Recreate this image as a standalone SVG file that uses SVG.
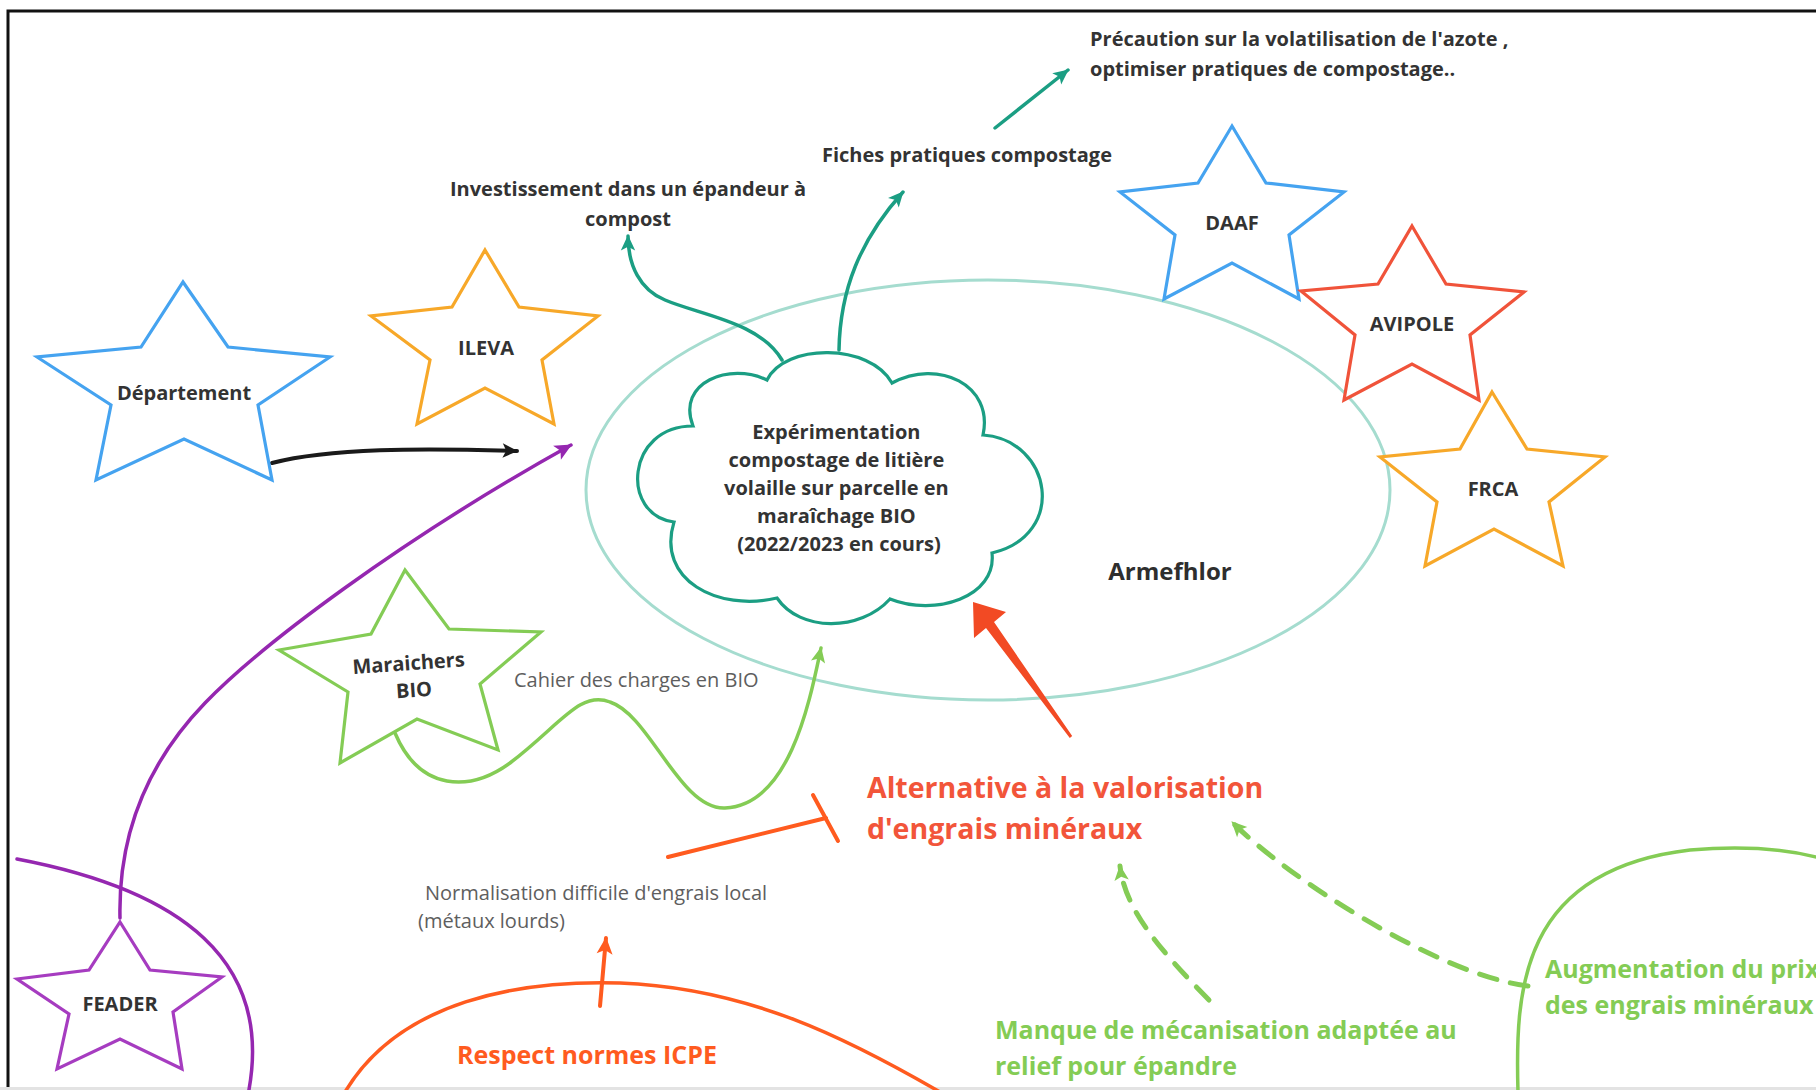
<svg xmlns="http://www.w3.org/2000/svg" width="1816" height="1090" viewBox="0 0 1816 1090">
<style>
  .t { font-family: "Open Sans", "Noto Sans", "Liberation Sans", sans-serif; }
  .dark { fill: #333333; font-weight: 700; font-size: 20px; }
  .gray { fill: #5e5e5e; font-weight: 400; font-size: 20px; }
  .star { fill: #ffffff; stroke-width: 3.2; stroke-linejoin: miter; }
  .conn { fill: none; stroke-linecap: round; stroke-linejoin: round; }
</style>
<defs>
  <marker id="aBlack" viewBox="0 0 20 20" refX="18" refY="10" markerWidth="18" markerHeight="18" markerUnits="userSpaceOnUse" orient="auto">
    <path d="M2,2 L19,10 L2,18 L6,10 z" fill="#1a1a1a"/>
  </marker>
  <marker id="aTeal" viewBox="0 0 20 20" refX="18" refY="10" markerWidth="18" markerHeight="18" markerUnits="userSpaceOnUse" orient="auto">
    <path d="M2,2 L19,10 L2,18 L6,10 z" fill="#1b9e83"/>
  </marker>
  <marker id="aPurple" viewBox="0 0 20 20" refX="18" refY="10" markerWidth="20" markerHeight="20" markerUnits="userSpaceOnUse" orient="auto">
    <path d="M2,2 L19,10 L2,18 L6,10 z" fill="#9527b0"/>
  </marker>
  <marker id="aGreen" viewBox="0 0 20 20" refX="18" refY="10" markerWidth="18" markerHeight="18" markerUnits="userSpaceOnUse" orient="auto">
    <path d="M2,2 L19,10 L2,18 L6,10 z" fill="#84cc55"/>
  </marker>
  <marker id="aOrange" viewBox="0 0 20 20" refX="18" refY="10" markerWidth="20" markerHeight="20" markerUnits="userSpaceOnUse" orient="auto">
    <path d="M2,2 L19,10 L2,18 L6,10 z" fill="#ff5b1f"/>
  </marker>
</defs>

<rect x="0" y="0" width="1816" height="1090" fill="#ffffff"/>
<path d="M8,1090 V11 H1816" fill="none" stroke="#111111" stroke-width="3"/>
<rect x="0" y="1087" width="1816" height="3" fill="#e3e3e3"/>

<g id="armefhlor">
  <ellipse cx="988" cy="490" rx="402" ry="210" fill="none" stroke="#a5dccf" stroke-width="3"/>
  <text class="t" x="1170" y="580" text-anchor="middle" font-size="24" font-weight="700" fill="#2e2e2e">Armefhlor</text>
</g>

<g id="connectors">
  <path class="conn" d="M272,463 C330,448 420,448 517,451" stroke="#1a1a1a" stroke-width="4" marker-end="url(#aBlack)"/>
  <path class="conn" d="M120,918 C118,830 150,760 205,703 S400,540 571,445" stroke="#9527b0" stroke-width="3.5" marker-end="url(#aPurple)"/>
  <path class="conn" d="M17,859 C180,890 275,960 248,1095" stroke="#9527b0" stroke-width="3.5"/>
  <path class="conn" d="M395,733 C420,792 470,792 510,763 C560,725 580,690 610,702 C650,715 680,810 725,808 C790,805 810,700 821,648" stroke="#84cc55" stroke-width="3.5" marker-end="url(#aGreen)"/>
  <path class="conn" d="M782,360 C760,322 700,315 665,300 C640,290 628,265 628,236" stroke="#1b9e83" stroke-width="3.5" marker-end="url(#aTeal)"/>
  <path class="conn" d="M839,350 C840,290 860,240 903,192" stroke="#1b9e83" stroke-width="3.5" marker-end="url(#aTeal)"/>
  <path class="conn" d="M995,128 L1068,70" stroke="#1b9e83" stroke-width="3.5" marker-end="url(#aTeal)"/>
  <polygon points="1069.8,737.9 986,627.9 974,638 973,602 1006,612 994,622.1 1072.2,736.1" fill="#f24a24"/>
  <path class="conn" d="M668,857 L826,818" stroke="#ff5b1f" stroke-width="4"/>
  <path class="conn" d="M813,795 L838,841" stroke="#ff5b1f" stroke-width="4"/>
  <path class="conn" d="M600,1006 L606,938" stroke="#ff5b1f" stroke-width="4" marker-end="url(#aOrange)"/>
  <path class="conn" d="M345,1092 C400,1000 520,980 620,983 C750,988 850,1040 940,1092" stroke="#ff5b1f" stroke-width="3.5"/>
  <path class="conn" d="M1209,1000 C1160,950 1125,910 1120,866" stroke="#84cc55" stroke-width="5" stroke-dasharray="18 14" stroke-linecap="butt" marker-end="url(#aGreen)"/>
  <path class="conn" d="M1528,986 C1440,975 1290,880 1232,822" stroke="#84cc55" stroke-width="5" stroke-dasharray="18 14" stroke-linecap="butt" marker-end="url(#aGreen)"/>
  <path class="conn" d="M1518,1092 C1515,990 1520,870 1690,850 C1750,845 1790,850 1820,858" stroke="#84cc55" stroke-width="3.5"/>
</g>

<g id="cloud">
  <path d="M693,426 C676,382 730,362 767,380 C785,343 870,343 892,383 C938,358 994,385 983,435 C1052,440 1068,535 992,553 C997,597 935,617 890,599 C860,632 800,632 777,598 C718,612 656,580 674,522 C620,515 626,426 693,426 z" fill="#ffffff" stroke="#1b9e83" stroke-width="3.2"/>
  <text class="t dark" text-anchor="middle" x="839">
    <tspan x="839" y="439">Expérimentation</tspan>
    <tspan x="839" y="467">compostage de litière</tspan>
    <tspan x="839" y="495">volaille sur parcelle en</tspan>
    <tspan x="839" y="523">maraîchage BIO</tspan>
    <tspan x="839" y="551">(2022/2023 en cours)</tspan>
  </text>
</g>

<g id="star-departement">
  <polygon class="star" stroke="#45a3f0" points="183,282 228,347 330,357 258,405 272,480 184,439 96,480 111,405 37,357 141,347"/>
  <text class="t dark" x="184" y="400" text-anchor="middle">Département</text>
</g>
<g id="star-ileva">
  <polygon class="star" stroke="#f7a829" points="485,250 519,307 598,316 542,360 554,424 485,388 417,424 430,360 371,316 452,307"/>
  <text class="t dark" x="486" y="355" text-anchor="middle">ILEVA</text>
</g>
<g id="star-maraichers">
  <polygon class="star" stroke="#84cc55" points="405,570 449,629 541,632 480,684 498,750 417,719 340,763 348,692 279,650 371,634"/>
  <text class="t dark" text-anchor="middle" transform="rotate(-4 412 676)">
    <tspan x="412" y="670">Maraichers</tspan>
    <tspan x="413" y="697">BIO</tspan>
  </text>
</g>
<g id="star-feader">
  <polygon class="star" stroke="#a63cc0" points="120,922 150,970 222,977 173,1012 182,1069 120,1039 57,1069 69,1014 17,979 89,970"/>
  <text class="t dark" x="120" y="1011" text-anchor="middle">FEADER</text>
</g>
<g id="star-daaf">
  <polygon class="star" stroke="#45a3f0" points="1232,126 1266,183 1344,192 1289,235 1299,299 1232,263 1164,299 1175,235 1120,192 1198,183"/>
  <text class="t dark" x="1232" y="230" text-anchor="middle">DAAF</text>
</g>
<g id="star-avipole">
  <polygon class="star" stroke="#f0533a" points="1412,226 1446,284 1524,292 1470,335 1479,400 1412,364 1344,400 1355,335 1301,291 1378,284"/>
  <text class="t dark" x="1412" y="331" text-anchor="middle">AVIPOLE</text>
</g>
<g id="star-frca">
  <polygon class="star" stroke="#f7a829" points="1492,392 1527,449 1605,457 1549,502 1563,566 1494,529 1425,566 1437,502 1380,457 1460,449"/>
  <text class="t dark" x="1493" y="496" text-anchor="middle">FRCA</text>
</g>

<g id="txt-precaution">
  <text class="t dark"><tspan x="1090" y="46">Précaution sur la volatilisation de l'azote ,</tspan><tspan x="1090" y="76">optimiser pratiques de compostage..</tspan></text>
</g>
<g id="txt-fiches">
  <text class="t dark" x="967" y="162" text-anchor="middle">Fiches pratiques compostage</text>
</g>
<g id="txt-investissement">
  <text class="t dark" text-anchor="middle"><tspan x="628" y="196">Investissement dans un épandeur à</tspan><tspan x="628" y="226">compost</tspan></text>
</g>
<g id="txt-cahier">
  <text class="t gray" x="514" y="687">Cahier des charges en BIO</text>
</g>
<g id="txt-normalisation">
  <text class="t gray"><tspan x="425" y="900">Normalisation difficile d'engrais local</tspan><tspan x="418" y="928">(métaux lourds)</tspan></text>
</g>
<g id="txt-alternative">
  <text class="t" font-size="28.5" font-weight="700" fill="#f2553a"><tspan x="867" y="798">Alternative à la valorisation</tspan><tspan x="867" y="839">d'engrais minéraux</tspan></text>
</g>
<g id="txt-respect">
  <text class="t" x="457" y="1064" font-size="25" font-weight="700" fill="#ff5b1f">Respect normes ICPE</text>
</g>
<g id="txt-manque">
  <text class="t" font-size="25" font-weight="700" fill="#84cc55"><tspan x="995" y="1039">Manque de mécanisation adaptée au</tspan><tspan x="995" y="1075">relief pour épandre</tspan></text>
</g>
<g id="txt-augmentation">
  <text class="t" font-size="25" font-weight="700" fill="#84cc55"><tspan x="1545" y="978">Augmentation du prix</tspan><tspan x="1545" y="1014">des engrais minéraux</tspan></text>
</g>
</svg>
